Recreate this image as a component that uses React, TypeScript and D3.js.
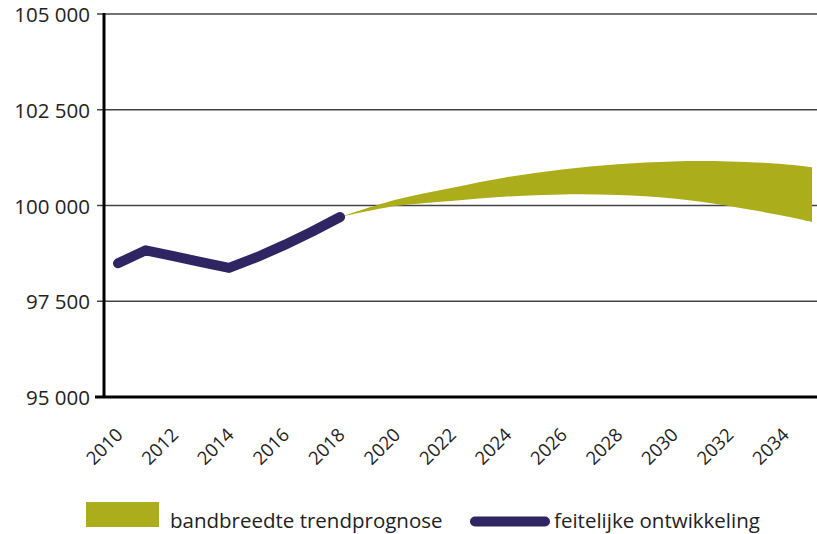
import React from "react";
import * as d3 from "d3";

const actualYears = [2010, 2011, 2012, 2013, 2014, 2015, 2016, 2017, 2018];
const actualValues = [98490, 98830, 98680, 98520, 98370, 98650, 98970, 99320, 99700];

const bandYears = [2018, 2020, 2022, 2024, 2026, 2028, 2030, 2032, 2034, 2035];
const bandUpper = [99700, 100150, 100460, 100740, 100940, 101075, 101150, 101150, 101080, 101000];
const bandLower = [99700, 99985, 100120, 100235, 100290, 100275, 100185, 99990, 99725, 99570];

const yTicks = [95000, 97500, 100000, 102500, 105000];
const xTickYears = [2010, 2012, 2014, 2016, 2018, 2020, 2022, 2024, 2026, 2028, 2030, 2032, 2034];

const legendBandLabel = "bandbreedte trendprognose";
const legendLineLabel = "feitelijke ontwikkeling";

const W = 817;
const H = 534;
const FONT = "'Open Sans', 'Noto Sans', sans-serif";
const BAND = "#abad1a";
const LINE = "#302563";
const TEXT = "#222";

export default function App() {
  const x = d3.scaleLinear().domain([2010, 2035]).range([118, 812]);
  const y = d3.scaleLinear().domain([95000, 105000]).range([397, 14]);
  const loc = d3.formatLocale({ decimal: ",", thousands: " ", grouping: [3], currency: ["€", ""] });
  const fmt = loc.format(",d");

  const area = d3
    .area<number>()
    .x((_, i) => x(bandYears[i]))
    .y0((_, i) => y(bandLower[i]))
    .y1((_, i) => y(bandUpper[i]))
    .curve(d3.curveCatmullRom.alpha(0.5));

  const line = d3
    .line<number>()
    .x((_, i) => x(actualYears[i]))
    .y((d) => y(d))
    .curve(d3.curveLinear);

  const axisLeft = 104;
  const plotRight = 817;

  return (
    <div style={{ position: "fixed", left: 0, top: 0, width: W, height: H, background: "#fff" }}>
      <svg width={W} height={H} viewBox={`0 0 ${W} ${H}`} style={{ display: "block" }}>
        {yTicks.map((t) =>
          t === 95000 ? null : (
            <line key={t} x1={97} x2={plotRight} y1={y(t)} y2={y(t)} stroke="#444" strokeWidth={1.6} />
          )
        )}
        {yTicks.map((t) => (
          <text
            key={"l" + t}
            x={90}
            y={y(t) + 8}
            textAnchor="end"
            fontFamily={FONT}
            fontSize={20.5}
            fill={TEXT}
          >
            {fmt(t)}
          </text>
        ))}
        <path d={area(bandUpper) || ""} fill={BAND} stroke="none" />
        <path
          d={line(actualValues) || ""}
          fill="none"
          stroke={LINE}
          strokeWidth={10}
          strokeLinecap="round"
          strokeLinejoin="round"
        />
        <line x1={axisLeft} x2={axisLeft} y1={y(105000) - 1} y2={y(95000)} stroke="#000" strokeWidth={3} />
        <line x1={95} x2={plotRight} y1={y(95000)} y2={y(95000)} stroke="#000" strokeWidth={3} />
        {xTickYears.map((yr) => (
          <text
            key={yr}
            transform={`translate(${x(yr) + 6},${436}) rotate(-45)`}
            textAnchor="end"
            fontFamily={FONT}
            fontSize={18.5}
            fill={TEXT}
          >
            {yr}
          </text>
        ))}
        <rect x={86} y={502} width={73} height={25} fill={BAND} />
        <text x={170} y={528} fontFamily={FONT} fontSize={20.5} fill={TEXT}>
          {legendBandLabel}
        </text>
        <line x1={475} x2={545} y1={521.5} y2={521.5} stroke={LINE} strokeWidth={10} strokeLinecap="round" />
        <text x={554} y={528} fontFamily={FONT} fontSize={20.5} fill={TEXT}>
          {legendLineLabel}
        </text>
      </svg>
    </div>
  );
}
